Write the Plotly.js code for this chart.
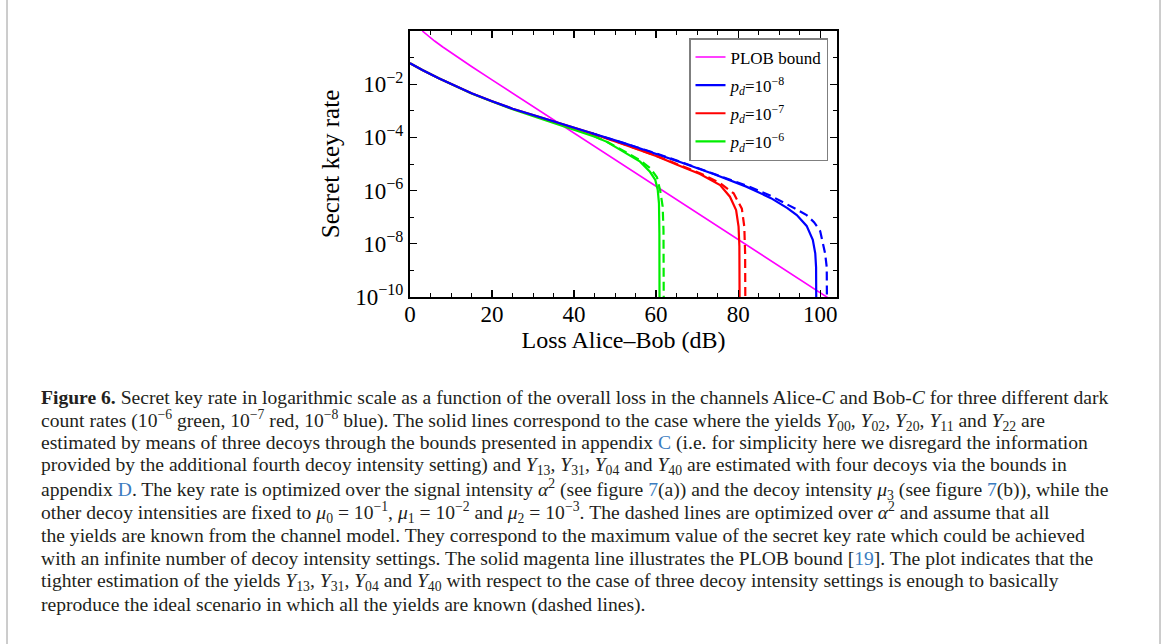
<!DOCTYPE html>
<html>
<head>
<meta charset="utf-8">
<script src="https://cdn.plot.ly/plotly-3.0.1.min.js"></script>
<style>
  html, body { margin: 0; padding: 0; background: #ffffff; }
  #chart { width: 1168px; height: 644px; }
</style>
</head>
<body>
<div id="chart"></div>
<script>
// ---------- data ----------
// PLOB bound (magenta)
const lossPLOB = [3.0, 4, 5, 6, 8, 10, 15, 20, 30, 40, 50, 60, 70, 80, 90, 100, 104.2];
const ratePLOB = [1.0, 0.73, 0.55, 0.42, 0.25, 0.152, 0.0463, 0.0145, 1.44e-3, 1.44e-4, 1.44e-5, 1.44e-6, 1.44e-7, 1.44e-8, 1.44e-9, 1.44e-10, 5.5e-11];

// p_d = 1e-8 (blue), solid: three/four-decoy estimate
const lossBlue = [0, 3, 7, 11, 15, 20, 25, 31, 37, 44, 52, 60, 66, 74, 82, 88, 92, 94.3, 96.7, 98.2, 98.8, 99.0, 99.1];
const rateBlue = [6.2e-2, 3.4e-2, 1.66e-2, 8.5e-3, 4.6e-3, 2.3e-3, 1.2e-3, 6.2e-4, 3.3e-4, 1.5e-4, 6.2e-5, 2.45e-5, 1.17e-5, 4.2e-6, 1.41e-6, 5.2e-7, 2.2e-7, 1.2e-7, 4.7e-8, 1.4e-8, 4.4e-9, 1.3e-9, 1e-12];
// blue dashed: all yields known
const lossBlueD = [44, 52, 60, 66, 74, 82, 88, 92, 94.3, 96.7, 98.5, 100, 101.2, 101.6, 101.7];
const rateBlueD = [1.5e-4, 6.2e-5, 2.5e-5, 1.2e-5, 4.4e-6, 1.55e-6, 6.3e-7, 3.1e-7, 1.95e-7, 1.2e-7, 6.5e-8, 3.0e-8, 4.4e-9, 1.3e-9, 1e-12];

// p_d = 1e-7 (red)
const lossRed = [0, 3, 7, 11, 15, 20, 25, 31, 37, 44, 52, 60, 66, 70.7, 75.6, 78.0, 79.5, 80.1, 80.3, 80.4];
const rateRed = [6.2e-2, 3.4e-2, 1.66e-2, 8.5e-3, 4.6e-3, 2.3e-3, 1.2e-3, 6.2e-4, 3.3e-4, 1.48e-4, 5.6e-5, 2.0e-5, 8.3e-6, 4.2e-6, 1.62e-6, 5.9e-7, 1.86e-7, 4.4e-8, 8e-9, 1e-12];
const lossRedD = [44, 52, 60, 66, 70.7, 75.6, 78.9, 80.9, 81.5, 81.7, 81.8];
const rateRedD = [1.48e-4, 5.7e-5, 2.05e-5, 8.6e-6, 4.5e-6, 1.9e-6, 7.9e-7, 2.1e-7, 4.4e-8, 4.4e-9, 1e-12];

// p_d = 1e-6 (green)
const lossGreen = [0, 3, 7, 11, 15, 20, 25, 31, 36.6, 40, 44.7, 48, 51.2, 54, 56.1, 58.5, 59.8, 60.4, 60.7, 60.8, 60.85];
const rateGreen = [6.2e-2, 3.4e-2, 1.66e-2, 8.4e-3, 4.5e-3, 2.24e-3, 1.15e-3, 5.6e-4, 2.95e-4, 2.0e-4, 1.12e-4, 6.8e-5, 3.55e-5, 2.0e-5, 1.23e-5, 5.1e-6, 2.5e-6, 1.05e-6, 3.3e-7, 2.5e-8, 1e-12];
const lossGreenD = [44.7, 48, 51.2, 54, 56.1, 58.5, 60.2, 61.0, 61.6, 61.8, 61.9];
const rateGreenD = [1.12e-4, 6.9e-5, 3.7e-5, 2.1e-5, 1.38e-5, 7.1e-6, 3.2e-6, 1.0e-6, 2.5e-7, 3.2e-8, 1e-12];

// tick labels
const xTickVals = [0, 20, 40, 60, 80, 100];
const yTickVals = [1e-10, 1e-8, 1e-6, 1e-4, 1e-2];
const yTickText = ['10<sup>−10</sup>', '10<sup>−8</sup>', '10<sup>−6</sup>', '10<sup>−4</sup>', '10<sup>−2</sup>'];
const yMinorVals = [1e-9, 1e-7, 1e-5, 1e-3, 1e-1];

// legend names
const nameP = 'PLOB bound';
const nameB = '<i>p</i><sub><i>d</i></sub>=10<sup>−8</sup>';
const nameR = '<i>p</i><sub><i>d</i></sub>=10<sup>−7</sup>';
const nameG = '<i>p</i><sub><i>d</i></sub>=10<sup>−6</sup>';

// caption lines
const LINK = '#3b7cc0';
const lk = s => '<span style="color:' + LINK + '">' + s + '</span>';
const Y = s => '<i>Y</i><sub>' + s + '</sub>';
const captionLines = [
  '<b>Figure 6.</b> Secret key rate in logarithmic scale as a function of the overall loss in the channels Alice-<i>C</i> and Bob-<i>C</i> for three different dark',
  'count rates (10<sup>−6</sup> green, 10<sup>−7</sup> red, 10<sup>−8</sup> blue). The solid lines correspond to the case where the yields ' + Y('00') + ', ' + Y('02') + ', ' + Y('20') + ', ' + Y('11') + ' and ' + Y('22') + ' are',
  'estimated by means of three decoys through the bounds presented in appendix ' + lk('C') + ' (i.e. for simplicity here we disregard the information',
  'provided by the additional fourth decoy intensity setting) and ' + Y('13') + ', ' + Y('31') + ', ' + Y('04') + ' and ' + Y('40') + ' are estimated with four decoys via the bounds in',
  'appendix ' + lk('D') + '. The key rate is optimized over the signal intensity <i>α</i><sup>2</sup> (see figure ' + lk('7') + '(a)) and the decoy intensity <i>μ</i><sub>3</sub> (see figure ' + lk('7') + '(b)), while the',
  'other decoy intensities are fixed to <i>μ</i><sub>0</sub> = 10<sup>−1</sup>, <i>μ</i><sub>1</sub> = 10<sup>−2</sup> and <i>μ</i><sub>2</sub> = 10<sup>−3</sup>. The dashed lines are optimized over <i>α</i><sup>2</sup> and assume that all',
  'the yields are known from the channel model. They correspond to the maximum value of the secret key rate which could be achieved',
  'with an infinite number of decoy intensity settings. The solid magenta line illustrates the PLOB bound [' + lk('19') + ']. The plot indicates that the',
  'tighter estimation of the yields ' + Y('13') + ', ' + Y('31') + ', ' + Y('04') + ' and ' + Y('40') + ' with respect to the case of three decoy intensity settings is enough to basically',
  'reproduce the ideal scenario in which all the yields are known (dashed lines).'
];

// ---------- layout geometry (pixels) ----------
const W = 1168, H = 644;
const PL = 410, PR = 837, PT = 31, PB = 297;
const fx = x => (x - PL) / (PR - PL);
const fy = y => (PB - y) / (PB - PT);

const SERIF = '"Liberation Serif", "DejaVu Serif", serif';
const MAG = '#ff00ff', BLUE = '#0000ff', RED = '#ff0000', GREEN = '#00ee00';
const DASH = '9px,5px';

function line(x, y, color, width, dash, name, show, rank) {
  return {
    type: 'scatter', mode: 'lines', x: x, y: y, name: name,
    showlegend: show, legendrank: rank, legendgroup: name,
    line: { color: color, width: width, dash: dash || 'solid' },
    hoverinfo: 'skip'
  };
}

const traces = [
  line(lossPLOB, ratePLOB, MAG, 1.6, null, nameP, true, 1),
  line(lossGreen, rateGreen, GREEN, 2.2, null, nameG, true, 4),
  line(lossRed, rateRed, RED, 2.2, null, nameR, true, 3),
  line(lossBlue, rateBlue, BLUE, 2.2, null, nameB, true, 2),
  line(lossGreenD, rateGreenD, GREEN, 2.2, DASH, nameG + ' ideal', false, 10),
  line(lossRedD, rateRedD, RED, 2.2, DASH, nameR + ' ideal', false, 11),
  line(lossBlueD, rateBlueD, BLUE, 2.2, DASH, nameB + ' ideal', false, 12)
];

const captionAnn = captionLines.map((t, i) => ({
  xref: 'paper', yref: 'paper', x: fx(39), y: fy(397 + i * 23.1),
  xanchor: 'left', yanchor: 'middle', showarrow: false, align: 'left',
  text: t, font: { family: SERIF, size: 19.6, color: '#231f20' }
}));

const layout = {
  width: W, height: H,
  margin: { l: PL, r: W - PR, t: PT, b: H - PB, pad: 0 },
  paper_bgcolor: '#ffffff', plot_bgcolor: '#ffffff',
  font: { family: SERIF, color: '#000000' },
  showlegend: true,
  legend: {
    x: fx(828), y: fy(38), xanchor: 'right', yanchor: 'top',
    bgcolor: '#ffffff', bordercolor: '#7f7f7f', borderwidth: 1.5,
    font: { family: SERIF, size: 17, color: '#000000' },
    tracegroupgap: 3, itemwidth: 30
  },
  xaxis: {
    range: [0, 104.1], showgrid: false, zeroline: false,
    showline: true, linecolor: '#000000', linewidth: 2, mirror: 'allticks',
    ticks: 'inside', ticklen: 7, tickwidth: 1.3, tickcolor: '#000000',
    tickmode: 'array', tickvals: xTickVals, ticklabelstandoff: -5,
    tickfont: { family: SERIF, size: 23, color: '#000000' },
    minor: { ticks: 'inside', dtick: 5, ticklen: 4, tickwidth: 1, tickcolor: '#000000' },
    title: { text: 'Loss Alice–Bob (dB)', font: { family: SERIF, size: 24, color: '#000000' }, standoff: 5 }
  },
  yaxis: {
    type: 'log', range: [-10, 0], showgrid: false, zeroline: false,
    showline: true, linecolor: '#000000', linewidth: 2, mirror: 'allticks',
    ticks: 'inside', ticklen: 7, tickwidth: 1.3, tickcolor: '#000000',
    tickmode: 'array', tickvals: yTickVals, ticktext: yTickText,
    tickfont: { family: SERIF, size: 23, color: '#000000' },
    minor: { ticks: 'inside', tickmode: 'array', tickvals: yMinorVals, ticklen: 4, tickwidth: 1, tickcolor: '#000000' },
    title: { text: 'Secret key rate', font: { family: SERIF, size: 25, color: '#000000' }, standoff: 8 }
  },
  shapes: [
    { type: 'rect', xref: 'paper', yref: 'paper', layer: 'below',
      x0: fx(7), x1: fx(1160), y0: fy(-5), y1: fy(652),
      line: { color: '#9a9a9a', width: 1 }, fillcolor: 'rgba(0,0,0,0)' }
  ],
  annotations: captionAnn
};

Plotly.newPlot('chart', traces, layout, { staticPlot: true, displayModeBar: false });
</script>
</body>
</html>
